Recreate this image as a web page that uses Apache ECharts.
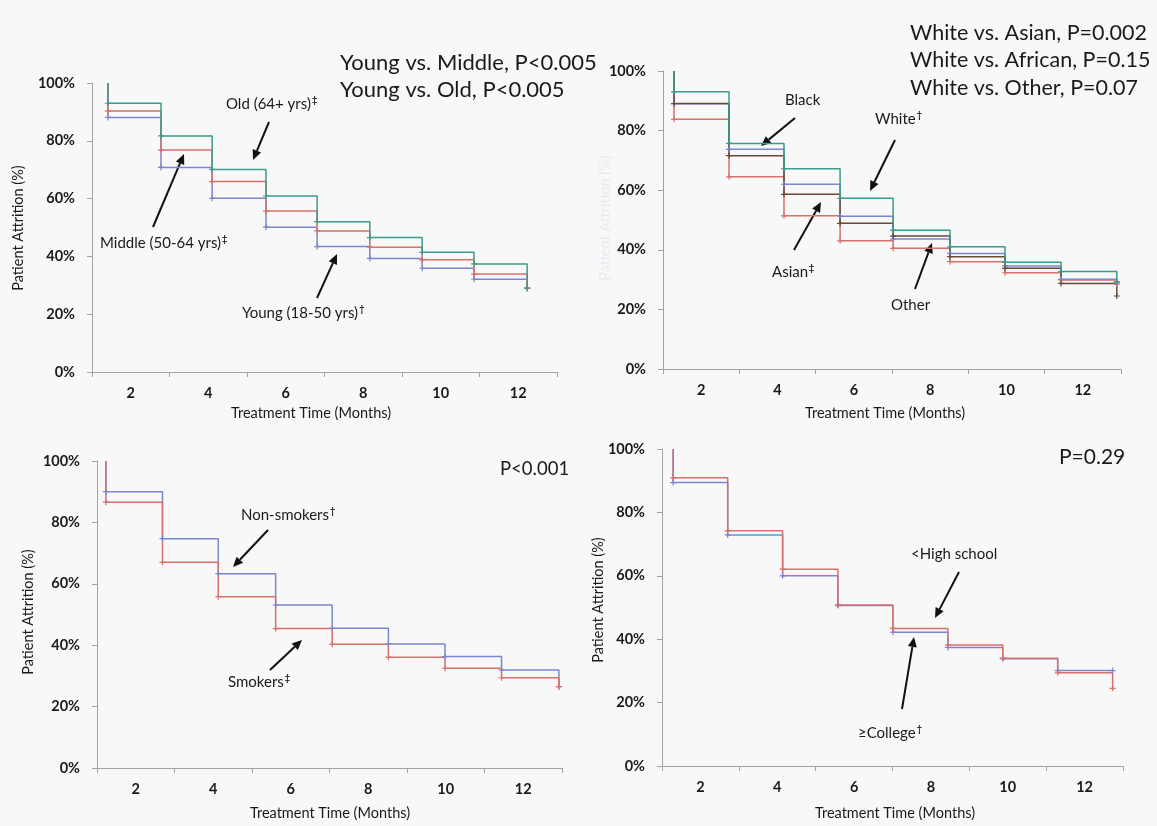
<!DOCTYPE html>
<html>
<head>
<meta charset="utf-8">
<script src="https://cdn.jsdelivr.net/npm/echarts@6/dist/echarts.min.js"></script>
<style>
html,body{margin:0;padding:0;background:#f8f8f8;}
#c{width:1157px;height:826px;}
</style>
</head>
<body>
<div id="c"></div>
<script>
// ---------- data ----------
const xTickLabels = ['2', '4', '6', '8', '10', '12'];
const yTickLabels = [0, 20, 40, 60, 80, 100];

// Panel 1: age
const p1Times  = [1.41, 2.78, 4.10, 5.49, 6.81, 8.17, 9.52, 10.86, 12.23];
const p1Old    = [93.0, 81.7, 70.1, 60.9, 52.0, 46.5, 41.4, 37.4, 29.0];
const p1Middle = [90.3, 76.8, 65.9, 55.7, 48.8, 43.2, 38.8, 33.9, 29.0];
const p1Young  = [88.1, 70.8, 60.1, 50.1, 43.4, 39.3, 35.9, 32.1, 29.0];

// Panel 2: race
const p2Times  = [1.29, 2.73, 4.17, 5.64, 7.03, 8.52, 9.96, 11.43, 12.89];
const p2White  = [93.0, 75.7, 67.2, 57.3, 46.6, 41.0, 35.8, 32.7, 29.3];
const p2Black  = [89.0, 73.7, 62.0, 51.3, 43.6, 38.8, 34.6, 30.1, 29.0];
const p2Other  = [89.1, 71.6, 58.6, 48.9, 44.6, 37.7, 33.8, 28.7, 24.5];
const p2Asian  = [83.8, 64.5, 51.4, 43.0, 40.5, 36.0, 32.3, 29.9, 28.5];

// Panel 3: smoking
const p3Times      = [1.23, 2.69, 4.13, 5.61, 7.07, 8.52, 9.98, 11.44, 12.92];
const p3NonSmokers = [90.0, 74.7, 63.3, 53.1, 45.5, 40.4, 36.3, 31.9, 26.5];
const p3Smokers    = [86.6, 67.0, 55.8, 45.4, 40.3, 36.1, 32.5, 29.4, 26.5];

// Panel 4: education
const p4Times      = [1.29, 2.71, 4.14, 5.58, 7.01, 8.44, 9.87, 11.30, 12.73];
const p4College    = [89.4, 72.9, 60.0, 50.6, 42.2, 37.4, 33.8, 30.1, 30.1];
const p4HighSchool = [90.9, 74.2, 62.1, 50.8, 43.4, 38.2, 34.0, 29.4, 24.5];

// ---------- styles ----------
const C_GREEN = '#3a9c8c', C_RED = '#d9706b', C_BLUE = '#7986d2', C_BROWN = '#6a4a35';
const FONT = 'Lato, "Open Sans", sans-serif';
const AXIS_GRAY = '#a3a3a3';
const CROSS = 'path://M4,0h2v4h4v2h-4v4h-2v-4h-4v-2h4z';

const grids = [
  {left: 92,  top: 83,  width: 465, height: 289},
  {left: 663, top: 71,  width: 458, height: 298},
  {left: 97,  top: 461, width: 465, height: 307},
  {left: 662, top: 449, width: 461, height: 317}
];

function steps(times, vals) {
  const pts = [{value: [times[0], 100], symbol: 'none'}];
  for (let k = 0; k < vals.length; k++) pts.push([times[k], vals[k]]);
  return pts;
}

const xAxes = [], yAxes = [];
grids.forEach((g, i) => {
  xAxes.push({type: 'value', gridIndex: i, min: 1, max: 13, show: false, position: 'bottom'});
  xAxes.push({
    type: 'category', gridIndex: i, data: xTickLabels, boundaryGap: true, position: 'bottom',
    axisLine: {show: true, lineStyle: {color: AXIS_GRAY, width: 1}},
    axisTick: {show: true, length: 5, lineStyle: {color: AXIS_GRAY}},
    axisLabel: {margin: 14, fontFamily: FONT, fontWeight: 'bold', fontSize: 14.5, color: '#1a1a1a'},
    splitLine: {show: false}
  });
  yAxes.push({
    type: 'value', gridIndex: i, min: 0, max: 100, interval: 20,
    axisLine: {show: true, lineStyle: {color: AXIS_GRAY, width: 1}},
    axisTick: {show: true, length: 5, lineStyle: {color: AXIS_GRAY}},
    axisLabel: {margin: 17, fontFamily: FONT, fontWeight: 'bold', fontSize: 14.5, color: '#1a1a1a', formatter: '{value}%'},
    splitLine: {show: false}
  });
});

function ser(name, gi, times, vals, color) {
  return {
    name, type: 'line', xAxisIndex: gi * 2, yAxisIndex: gi, step: 'end',
    data: steps(times, vals), symbol: CROSS, symbolSize: 6, showSymbol: true,
    lineStyle: {color, width: 1.5}, itemStyle: {color},
    emphasis: {disabled: true}, silent: true
  };
}

const series = [
  ser('Young', 0, p1Times, p1Young, C_BLUE),
  ser('Middle', 0, p1Times, p1Middle, C_RED),
  ser('Old', 0, p1Times, p1Old, C_GREEN),

  ser('Asian', 1, p2Times, p2Asian, C_RED),
  ser('Black', 1, p2Times, p2Black, C_BLUE),
  ser('Other', 1, p2Times, p2Other, C_BROWN),
  ser('White', 1, p2Times, p2White, C_GREEN),

  ser('Non-smokers', 2, p3Times, p3NonSmokers, C_BLUE),
  ser('Smokers', 2, p3Times, p3Smokers, C_RED),

  ser('>=College', 3, p4Times, p4College, C_BLUE),
  ser('<High school', 3, p4Times, p4HighSchool, C_RED)
];

// ---------- annotations ----------
const graphics = [];
function txt(x, y, text, size, opts) {
  opts = opts || {};
  graphics.push({
    type: 'text', x, y, silent: true,
    style: {
      text, fontFamily: FONT, fontSize: size, fill: opts.fill || '#1a1a1a',
      textAlign: opts.align || 'left', textVerticalAlign: 'middle'
    }
  });
}
const supRich = {
  a: {fontFamily: FONT, fontSize: 15, fill: '#1a1a1a'},
  s: {fontFamily: FONT, fontSize: 9, fontWeight: 'bold', fill: '#1a1a1a', verticalAlign: 'top', padding: [0, 0, 8, 1]}
};
function label(x, y, main, sup) {
  graphics.push({
    type: 'text', x, y, silent: true,
    style: {
      text: '{a|' + main + '}' + (sup ? '{s|' + sup + '}' : ''),
      rich: supRich, textVerticalAlign: 'middle', textAlign: 'left'
    }
  });
}
function arrow(x1, y1, x2, y2) {
  const a = Math.atan2(y2 - y1, x2 - x1), L = 10, W = 4.5;
  const bx = x2 - L * Math.cos(a), by = y2 - L * Math.sin(a);
  graphics.push({type: 'line', silent: true, shape: {x1, y1, x2: bx, y2: by},
    style: {stroke: '#111', lineWidth: 2}});
  graphics.push({type: 'polygon', silent: true,
    shape: {points: [[x2, y2], [bx + W * Math.sin(a), by - W * Math.cos(a)], [bx - W * Math.sin(a), by + W * Math.cos(a)]]},
    style: {fill: '#111'}});
}
function yName(x, y, color) {
  graphics.push({type: 'text', x, y, rotation: Math.PI / 2, silent: true,
    style: {text: 'Patient Attrition (%)', fontFamily: FONT, fontSize: 14.5, fill: color, textAlign: 'center', textVerticalAlign: 'middle'}});
}

// axis names
txt(311, 413, 'Treatment Time (Months)', 14.5, {align: 'center'});
txt(885, 413, 'Treatment Time (Months)', 14.5, {align: 'center'});
txt(330, 813, 'Treatment Time (Months)', 14.5, {align: 'center'});
txt(895, 813, 'Treatment Time (Months)', 14.5, {align: 'center'});
yName(18, 228, '#1a1a1a');
yName(605, 218, '#e6eaf2');
yName(28, 612, '#1a1a1a');
yName(598, 600, '#1a1a1a');

// P values
txt(340, 63, 'Young vs. Middle, P<0.005', 22);
txt(340, 90, 'Young vs. Old, P<0.005', 22);
txt(910, 33, 'White vs. Asian, P=0.002', 21.5);
txt(910, 60, 'White vs. African, P=0.15', 21.5);
txt(910, 88, 'White vs. Other, P=0.07', 21.5);
txt(500, 469, 'P<0.001', 18.5);
txt(1059, 457, 'P=0.29', 21);

// Panel 1 labels
label(226, 104, 'Old (64+ yrs)', '‡');
label(100, 243, 'Middle (50-64 yrs)', '‡');
label(242, 313, 'Young (18-50 yrs)', '†');
arrow(269, 122, 253, 160);
arrow(153, 227, 184, 154);
arrow(317, 298, 337, 254);

// Panel 2 labels
label(785, 100, 'Black');
label(875, 119, 'White', '†');
label(772, 272, 'Asian', '‡');
label(891, 305, 'Other');
arrow(795, 118, 761, 146);
arrow(895, 140, 870, 191);
arrow(794, 250, 821, 202);
arrow(915, 289, 932, 243);

// Panel 3 labels
label(241, 515, 'Non-smokers', '†');
label(228, 682, 'Smokers', '‡');
arrow(268, 530, 233, 567);
arrow(270, 670, 302, 640);

// Panel 4 labels
label(911, 554, '<High school');
label(858, 733, '≥College', '†');
arrow(959, 572, 935, 618);
arrow(902, 709, 914, 637);

const chart = echarts.init(document.getElementById('c'), null, {renderer: 'canvas'});
chart.setOption({
  backgroundColor: '#f8f8f8',
  animation: false,
  grid: grids,
  xAxis: xAxes,
  yAxis: yAxes,
  series,
  graphic: graphics
});
</script>
</body>
</html>
